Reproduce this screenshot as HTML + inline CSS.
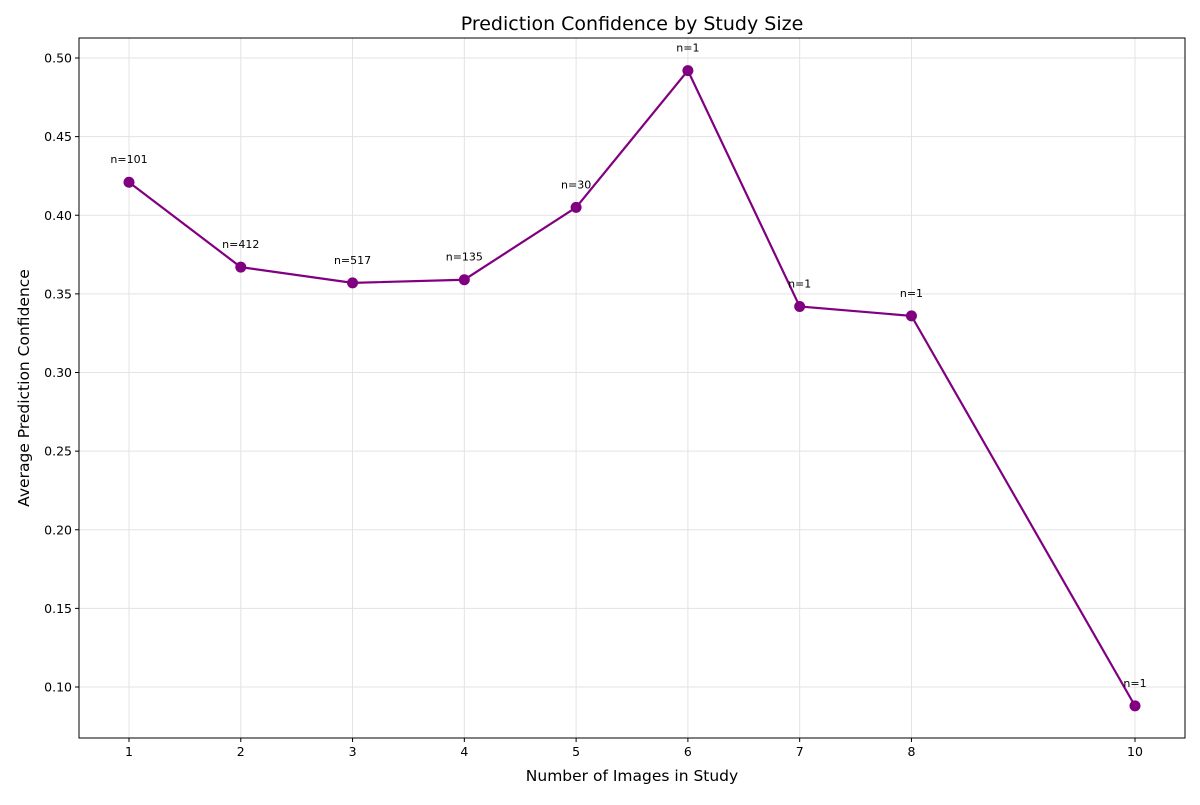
<!DOCTYPE html>
<html><head><meta charset="utf-8"><style>
body{margin:0;background:#fff;font-family:"Liberation Sans","DejaVu Sans",sans-serif;}
svg text{font-family:"DejaVu Sans","Liberation Sans",sans-serif;}
</style></head><body>
<svg id="chart" width="1200" height="800"></svg>
<script>
const xValues=[1,2,3,4,5,6,7,8,10];
const confidence=[0.421,0.367,0.357,0.359,0.405,0.492,0.342,0.336,0.088];
const counts=["n=101","n=412","n=517","n=135","n=30","n=1","n=1","n=1","n=1"];
const xTicks=[1,2,3,4,5,6,7,8,10];
const yTicks=[0.10,0.15,0.20,0.25,0.30,0.35,0.40,0.45,0.50];

const L=79,R=1185,T=38,B=738;
const sx=v=>129+(v-1)*(1135-129)/9;
const sy=v=>687-(v-0.10)*(687-58)/0.4;
const svg=document.getElementById('chart');
const NS='http://www.w3.org/2000/svg';
function mk(tag,attrs,parent){const e=document.createElementNS(NS,tag);for(const k in attrs)e.setAttribute(k,attrs[k]);(parent||svg).appendChild(e);return e;}
function txt(s,attrs){const e=mk('text',attrs);e.textContent=s;return e;}

xTicks.forEach(t=>{
  const g=mk('line',{x1:sx(t),x2:sx(t),y1:T,y2:B,stroke:'#e3e3e3','stroke-width':1});
  
  
  const tk=mk('line',{x1:sx(t),x2:sx(t),y1:B,y2:B+4,stroke:'#000'});
  
  
  const l=txt(String(t),{x:sx(t),y:B+18,'text-anchor':'middle','font-size':12.5,fill:'#000'});
  
  
});
yTicks.forEach(t=>{
  const g=mk('line',{x1:L,x2:R,y1:sy(t),y2:sy(t),stroke:'#e3e3e3','stroke-width':1});
  
  
  const tk=mk('line',{x1:L-4,x2:L,y1:sy(t),y2:sy(t),stroke:'#000'});
  
  
  const l=txt(t.toFixed(2),{x:L-7,y:sy(t)+4.5,'text-anchor':'end','font-size':12.5,fill:'#000'});
  
  
});
const frame=mk('rect',{x:L,y:T,width:R-L,height:B-T,fill:'none',stroke:'#000','stroke-width':1});



const pts=xValues.map((x,i)=>sx(x)+','+sy(confidence[i])).join(' ');
const line=mk('polyline',{points:pts,fill:'none',stroke:'#800080','stroke-width':2.2});


xValues.forEach((x,i)=>{
  const c=mk('circle',{cx:sx(x),cy:sy(confidence[i]),r:5.5,fill:'#800080'});
  
  
  const l=txt(counts[i],{x:sx(x),y:sy(confidence[i])-19,'text-anchor':'middle','font-size':11,fill:'#000'});
  
  
});

const title=txt('Prediction Confidence by Study Size',{x:632,y:30,'text-anchor':'middle','font-size':19,fill:'#000'});


const xt=txt('Number of Images in Study',{x:632,y:781,'text-anchor':'middle','font-size':15.5,fill:'#000'});


const yt=txt('Average Prediction Confidence',{x:0,y:0,'text-anchor':'middle','font-size':15.5,fill:'#000',transform:'translate(29,388) rotate(-90)'});


</script>
</body></html>
